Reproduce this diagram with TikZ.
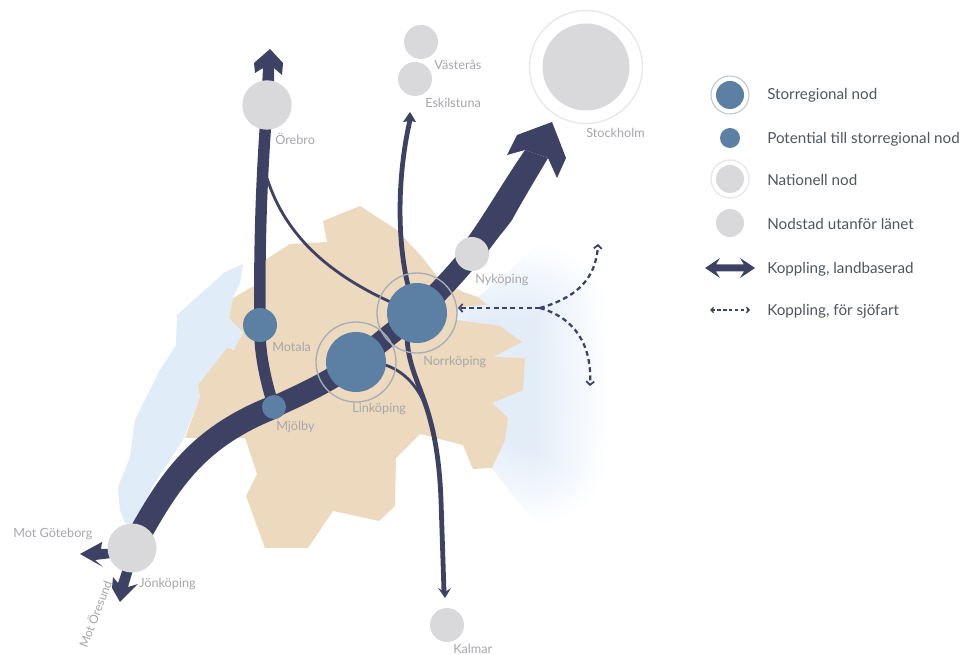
\documentclass[tikz,border=0pt]{standalone}
\usepackage{fontspec}
\setmainfont{Lato}
\usetikzlibrary{arrows.meta}
\definecolor{navy}{HTML}{3D4164}
\definecolor{nodeblue}{HTML}{5C80A3}
\definecolor{nodegray}{HTML}{D9D9DB}
\definecolor{landc}{HTML}{EDD9BE}
\definecolor{lakec}{HTML}{E0ECF7}
\definecolor{seac}{HTML}{E3EDF8}
\definecolor{ringc}{HTML}{A5AEB8}
\definecolor{ringl}{HTML}{E9E9EA}
\definecolor{labelc}{HTML}{A6A7AB}
\definecolor{legtext}{HTML}{50565F}
\tikzset{
  x=0.75pt,y=-0.75pt,
  dot/.style={circle,inner sep=0pt,minimum size=#1*1.5pt},
  bluedot/.style={dot=#1,fill=nodeblue},
  graydot/.style={dot=#1,fill=nodegray},
  ring/.style={dot=#1,draw=ringc,line width=1pt},
  lightring/.style={dot=#1,draw=ringl,line width=1.1pt},
  maplabel/.style={anchor=west,inner sep=0pt,text=labelc,font=\fontsize{9.5}{11}\selectfont},
  legendlabel/.style={anchor=west,inner sep=0pt,text=legtext,font=\fontsize{11.4}{13}\selectfont},
  thinroad/.style={draw=navy,line width=2.1pt},
  midroad/.style={draw=navy,line width=3.6pt},
  seaway/.style={draw=navy,line width=1.7pt,dash pattern=on 3.6pt off 2.6pt},
  seahead/.style={-{Straight Barb[length=2.6pt,width=6pt,line width=1.3pt]}},
}
\begin{document}
\begin{tikzpicture}
\useasboundingbox (0,0) rectangle (961,655);
% sea: soft edged, kept off the white ground south of the coast
\begin{scope}
\clip (440,300) -- (478,297) -- (510,270) -- (560,225) -- (700,225) -- (700,560) -- (560,545) -- (520,505) -- (492,468) -- (463,445) -- cycle;
\def\seapoly{(475,322) -- (510,318) -- (533,318) -- (535,400) -- (533,450) -- (515,445) -- (485,425) -- cycle}
\foreach \i in {1,...,28}{
  \pgfmathsetmacro{\w}{112-4*(\i-1)}
  \pgfmathsetmacro{\a}{1/(29-\i)}
  \draw[seac,line width=\w pt,line join=round,opacity=\a] \seapoly;
}
\fill[seac] \seapoly;
\end{scope}
% lake
\fill[lakec] (243,264) -- (225,272) -- (177,315) -- (176,345) -- (160,370) -- (135,420) -- (130,457) -- (118,487) -- (120,510) -- (125,523) -- (137,525) -- (152,487) -- (183,440) -- (200,397) -- (198,385) -- (227,348) -- (235,350) -- (243,330) -- (229,318) -- (233,298) -- (240,283) -- cycle;
% land
\fill[landc] (360,206) -- (397,230) -- (422,257) -- (440,280) -- (463,292) -- (478,297) -- (487,305) -- (458,307) -- (457,320) -- (500,326) -- (522,342) -- (493,357) -- (525,358) -- (523,390) -- (492,403) -- (508,418) -- (505,440) -- (492,468) -- (473,469) -- (463,445) -- (420,434) -- (396,458) -- (395,506) -- (379,521) -- (333,511) -- (308,548) -- (265,548) -- (246,496) -- (257,474) -- (245,438) -- (185,438) -- (200,397) -- (198,385) -- (227,348) -- (234,350) -- (243,332) -- (229,318) -- (233,298) -- (252,287) -- (263,288) -- (265,260) -- (290,244) -- (327,242) -- (323,221) -- cycle;
% node centres
\coordinate (norrc) at (417,313);
\coordinate (linkc) at (356,362);
\coordinate (orec) at (267,105);
\coordinate (motc) at (260,325);
\coordinate (mjoc) at (274,407);
\coordinate (jonc) at (132,548);
\coordinate (nykc) at (472,254);
% main road
\draw[navy,line width=17.5pt] (jonc) .. controls (165,490) and (190,440) .. (mjoc);
\draw[navy,line width=16pt] (mjoc) .. controls (300,395) and (330,382) .. (linkc) -- (norrc) .. controls (435,296) and (455,275) .. (nykc);
\fill[navy] (463,244) .. controls (480,222) and (503,182) .. (525,150) -- (548,158) .. controls (535,180) and (520,205) .. (512,220) .. controls (505,230) and (495,240) .. (481,262) -- cycle;
\fill[navy] (552,122) -- (566,158) -- (557,178) -- (548,158) -- (525,150) -- (507,155) -- (517,135) -- cycle;
% Orebro road
\draw[navy,line width=8.6pt] (orec) .. controls (262,170) and (259,240) .. (motc) .. controls (259,350) and (265,380) .. (mjoc);
\fill[navy] (270,49) -- (283,63) -- (282,75) -- (274,68) -- (274,88) -- (262,88) -- (263,68) -- (255,73) -- (254,63) -- cycle;
% thin roads
\draw[thinroad] (267,178) .. controls (285,235) and (330,280) .. (norrc);
\draw[midroad] (norrc) .. controls (398,270) and (394,190) .. (410,120);
\fill[navy] (410,112) -- (416,122) -- (410,121) -- (403,122) -- cycle;
\draw[midroad] (407,335) .. controls (408,385) and (437,395) .. (441,500) -- (444,592);
\draw[thinroad] (linkc) .. controls (400,358) and (424,388) .. (432,427.5);
\fill[navy] (445,598) -- (438,588) -- (445,592) -- (451,588) -- cycle;
% Jonkoping arrows
\fill[navy] (80,554) -- (102,542) -- (101,549) -- (112,549) -- (112,558) -- (95,560) -- (103,567) -- cycle;
\fill[navy] (120,602) -- (112,588) -- (113,577) -- (118,583) -- (123,568) -- (133,570) -- (128,587) -- (138,584) -- cycle;
% sea routes
\coordinate (forkc) at (540,308);
\coordinate (upend) at (598,244);
\coordinate (downend) at (590,386);
\coordinate (harbour) at (458,308);
\draw[seaway,seahead] (forkc) -- (harbour);
\draw[seaway,seahead] (forkc) .. controls (575,298) and (596,280) .. (upend);
\draw[seaway,seahead] (forkc) .. controls (575,318) and (592,345) .. (downend);
% rings and nodes
\node[ring=40] at (norrc) {};
\node[ring=40] at (linkc) {};
\node[bluedot=30] (norrkoping) at (norrc) {};
\node[bluedot=30] (linkoping) at (linkc) {};
\node[bluedot=17] (motala) at (motc) {};
\node[bluedot=12] (mjolby) at (mjoc) {};
\node[graydot=24.7] (orebro) at (orec) {};
\node[graydot=17] (vasteras) at (421,42) {};
\node[graydot=17] (eskilstuna) at (415,79) {};
\node[lightring=56.5] at (586,67) {};
\node[graydot=43.5] (stockholm) at (586,67) {};
\node[graydot=17] (nykoping) at (nykc) {};
\node[graydot=24.5] (jonkoping) at (jonc) {};
\node[graydot=17] (kalmar) at (447,625) {};
% labels
\node[maplabel] (lor) at (275,139) {Örebro};
\node[maplabel] (lva) at (434,65) {Västerås};
\node[maplabel] (les) at (425,103) {Eskilstuna};
\node[maplabel] (lst) at (586,133) {Stockholm};
\node[maplabel] (lny) at (475,280) {Nyköping};
\node[maplabel] (lno) at (423,362) {Norrköping};
\node[maplabel] (lli) at (352,409) {Linköping};
\node[maplabel] (lmo) at (272,347) {Motala};
\node[maplabel] (lmj) at (276,427) {Mjölby};
\node[maplabel] (ljo) at (139,584) {Jönköping};
\node[maplabel] (lka) at (453,649) {Kalmar};
\node[maplabel] (lgo) at (13,534) {Mot Göteborg};
\node[maplabel,rotate=69,font=\fontsize{9}{11}\selectfont] (los) at (82,647) {Mot Öresund};
% legend
\node[dot=19,draw=ringc!70,line width=0.8pt] at (730,95) {};
\node[bluedot=14] (k1) at (730,95) {};
\node[bluedot=10] (k2) at (730,138) {};
\node[lightring=19] at (730,179) {};
\node[graydot=14] (k3) at (730,179) {};
\node[graydot=14] (k4) at (730,223) {};
\coordinate (k5a) at (705,268);
\coordinate (k5b) at (755,268);
\fill[navy] (k5a) -- (720,258) -- (716,264.5) -- (744,264.5) -- (740,258) -- (k5b) -- (740,278) -- (744,271.5) -- (716,271.5) -- (720,278) -- cycle;
\coordinate (k6a) at (710,310);
\coordinate (k6b) at (750,310);
\draw[navy,line width=1.1pt,dash pattern=on 2.4pt off 2pt,{Straight Barb[length=2pt,width=4pt,line width=1pt]}-{Straight Barb[length=2pt,width=4pt,line width=1pt]}] (k6a) -- (k6b);
\node[legendlabel] (t1) at (767,95) {Storregional nod};
\node[legendlabel] (t2) at (767,139) {Potential till storregional nod};
\node[legendlabel] (t3) at (767,180) {Nationell nod};
\node[legendlabel] (t4) at (767,224) {Nodstad utanför länet};
\node[legendlabel] (t5) at (767,269) {Koppling, landbaserad};
\node[legendlabel] (t6) at (767,311) {Koppling, för sjöfart};
\end{tikzpicture}
\end{document}
